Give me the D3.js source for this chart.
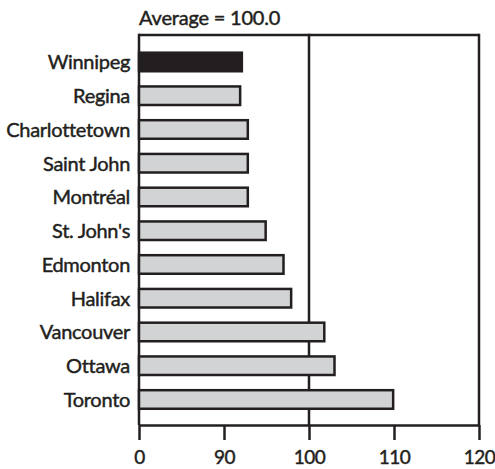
<!DOCTYPE html>
<html>
<head>
<meta charset="utf-8">
<script src="https://cdn.jsdelivr.net/npm/d3@7"></script>
<style>
  html, body { margin: 0; padding: 0; background: #fff; }
  svg { display: block; }
  text { font-family: "Lato", "Liberation Sans", sans-serif; fill: #231f20; stroke: #231f20; stroke-width: 0.45px; }
</style>
</head>
<body>
<svg id="chart" width="495" height="469"></svg>
<script>
const cities = ["Winnipeg", "Regina", "Charlottetown", "Saint John", "Montréal", "St. John's", "Edmonton", "Halifax", "Vancouver", "Ottawa", "Toronto"];
const values = [92.1, 91.9, 92.8, 92.8, 92.8, 94.9, 97.0, 97.9, 101.8, 103.0, 109.9];
const highlight = ["Winnipeg"];
const tickValues = [80, 90, 100, 110, 120];
const tickLabels = ["0", "90", "100", "110", "120"];
const title = "Average = 100.0";
const averageValue = 100;

(function () {
const ink = "#231f20";
const grey = "#d1d3d4";
const svg = d3.select("#chart");

const x = d3.scaleLinear().domain([80, 120]).range([139, 479]);
const y = d3.scaleBand().domain(cities).range([45.1, 416.35]).paddingInner(0.45).paddingOuter(0.225);
const frameTop = 35, frameBottom = 425;

// frame: top line, left axis, average line, right border
svg.append("line").attr("x1", x(80)).attr("x2", x(120)).attr("y1", frameTop).attr("y2", frameTop)
  .attr("stroke", ink).attr("stroke-width", 2.5);
[80, averageValue, 120].forEach(v => {
  svg.append("line").attr("x1", x(v)).attr("x2", x(v)).attr("y1", frameTop - 1.25).attr("y2", frameBottom)
    .attr("stroke", ink).attr("stroke-width", 2.5);
});

// bars
const data = cities.map((c, i) => ({ city: c, value: values[i] }));
svg.append("g").selectAll("rect").data(data).join("rect")
  .attr("x", x(80))
  .attr("y", d => y(d.city))
  .attr("width", d => x(d.value) - x(80))
  .attr("height", y.bandwidth())
  .attr("fill", d => highlight.includes(d.city) ? ink : grey)
  .attr("stroke", ink)
  .attr("stroke-width", 2.5);

// category labels
svg.append("g").selectAll("text").data(data).join("text")
  .attr("x", 130)
  .attr("y", d => y(d.city) + y.bandwidth() / 2)
  .attr("dy", "0.37em")
  .attr("text-anchor", "end")
  .attr("font-size", 20)
  .attr("letter-spacing", "-0.3px")
  .text(d => d.city);

// title
svg.append("text").attr("x", 139).attr("y", 25).attr("font-size", 20)
  .attr("letter-spacing", "-0.2px").text(title);

// bottom axis
const axis = d3.axisBottom(x).tickValues(tickValues)
  .tickFormat((d, i) => tickLabels[i]).tickSize(15).tickPadding(11).tickSizeOuter(0);
const gAxis = svg.append("g").attr("transform", `translate(0,${frameBottom})`).call(axis);
gAxis.select(".domain").attr("stroke", ink).attr("stroke-width", 2.5);
gAxis.selectAll(".tick line").attr("stroke", ink).attr("stroke-width", 2.5);
gAxis.selectAll(".tick text").attr("font-size", 19).attr("fill", ink)
  .attr("letter-spacing", "-0.5px")
  .attr("font-family", "Lato, 'Liberation Sans', sans-serif");
})();
</script>
</body>
</html>
